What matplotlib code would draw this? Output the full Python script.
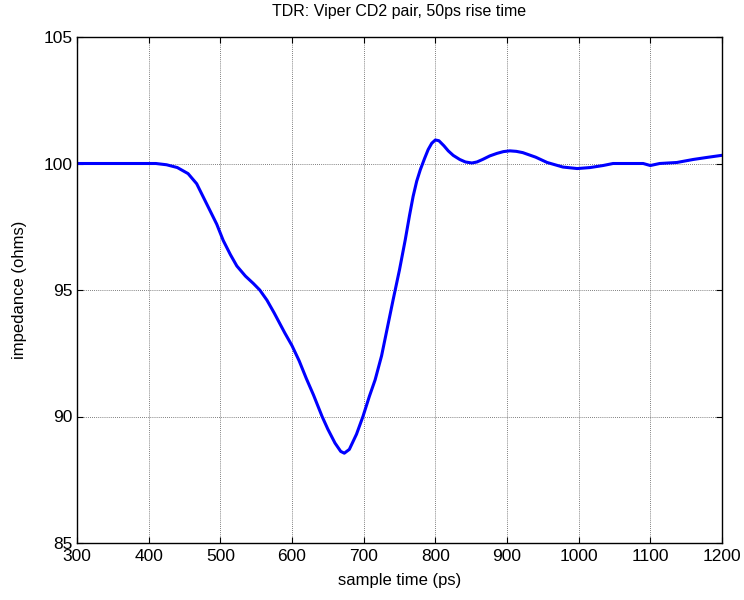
import numpy as np
import matplotlib
matplotlib.use('Agg')
import matplotlib.pyplot as plt

# TDR trace
t_ps = [300, 350, 400, 410, 416, 425, 440, 455, 467, 481, 495, 504, 514, 523,
        535, 546, 555, 565, 575, 590, 600, 610, 620, 630, 642, 650, 660, 668,
        673, 680, 690, 699, 708, 716, 725, 733, 741, 750, 758, 764, 769, 774,
        779, 785, 790, 795, 800, 805, 812, 818, 825, 834, 842, 851, 858, 866,
        876, 886, 895, 904, 913, 922, 940, 956, 978, 998, 1016, 1034, 1048,
        1070, 1090, 1100, 1113, 1137, 1160, 1179, 1199]
z_ohm = [100.0, 100.0, 100.0, 100.0, 99.98, 99.95, 99.84, 99.6, 99.2, 98.4, 97.6,
         96.96, 96.4, 95.95, 95.55, 95.26, 95.0, 94.6, 94.1, 93.3, 92.8, 92.2, 91.5,
         90.85, 90.0, 89.5, 88.95, 88.62, 88.55, 88.7, 89.3, 90.0, 90.8, 91.45, 92.4,
         93.5, 94.6, 95.8, 96.98, 97.95, 98.7, 99.3, 99.75, 100.2, 100.55, 100.8,
         100.93, 100.9, 100.7, 100.5, 100.32, 100.16, 100.06, 100.02, 100.06, 100.16,
         100.3, 100.4, 100.47, 100.5, 100.48, 100.43, 100.25, 100.04,
         99.86, 99.8, 99.84, 99.92, 100.0, 100.0, 100.0, 99.92, 100.0, 100.04, 100.16,
         100.24, 100.32]

x_ticks = [300, 400, 500, 600, 700, 800, 900, 1000, 1100, 1200]
y_ticks = [85, 90, 95, 100, 105]

plt.rcParams['font.family'] = ['Liberation Sans', 'DejaVu Sans']

fig = plt.figure(figsize=(7.44, 6.0), dpi=100)
ax = fig.add_axes([77/744, 57/600, 645/744, 506/600])

ax.plot(t_ps, z_ohm, color='#0000ff', lw=2.2)

ax.set_xlim(300, 1200)
ax.set_ylim(85, 105)
ax.set_xticks(x_ticks)
ax.set_yticks(y_ticks)
ax.tick_params(direction='in', length=4, width=0.8, top=True, right=True,
               labelsize=12.5)
ax.tick_params(axis='x', pad=4)
ax.tick_params(axis='y', pad=3)
ax.grid(True, color='#555555', linestyle=(0, (1, 1.5)), linewidth=0.6)
for s in ax.spines.values():
    s.set_linewidth(1.0)

ax.set_title('TDR: Viper CD2 pair, 50ps rise time', fontsize=11.5, pad=15)
ax.set_xlabel('sample time (ps)', fontsize=12, labelpad=7)
ax.set_ylabel('impedance (ohms)', fontsize=12, labelpad=12)

fig.savefig('out.png', dpi=100)
